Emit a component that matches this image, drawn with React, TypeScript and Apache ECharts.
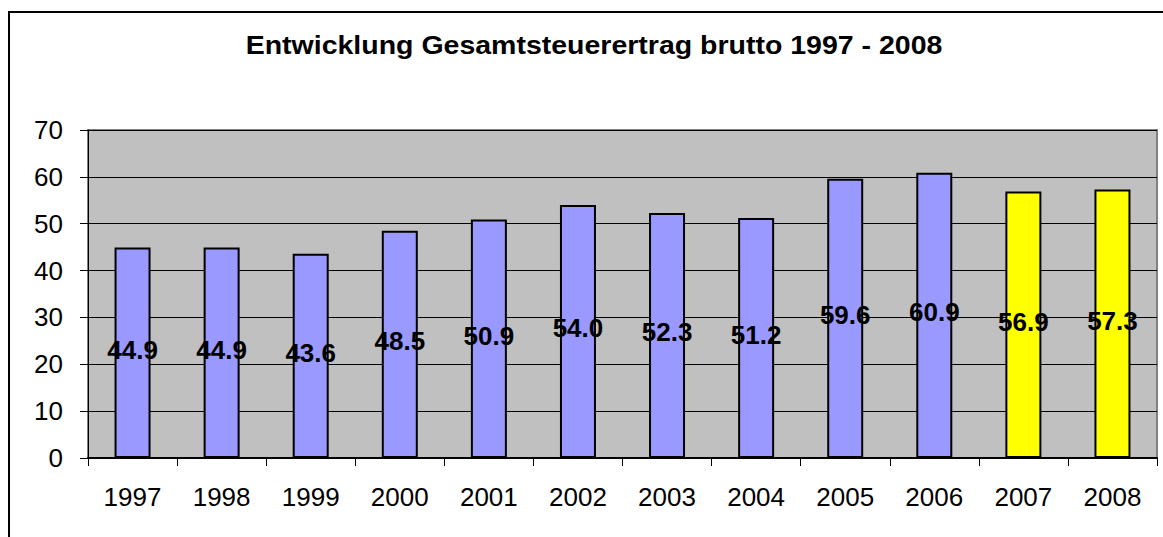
import React, { useEffect, useRef } from "react";
import * as echarts from "echarts";

const title = "Entwicklung Gesamtsteuerertrag brutto 1997 - 2008";
const years = ["1997", "1998", "1999", "2000", "2001", "2002", "2003", "2004", "2005", "2006", "2007", "2008"];
const values = [44.9, 44.9, 43.6, 48.5, 50.9, 54.0, 52.3, 51.2, 59.6, 60.9, 56.9, 57.3];
const highlighted = ["2007", "2008"];
const yTicks = { min: 0, max: 70, interval: 10 };

const FONT = "'Liberation Sans', Arial, sans-serif";

export default function App() {
  const ref = useRef<HTMLDivElement>(null);
  useEffect(() => {
    if (!ref.current) return;
    const chart = echarts.init(ref.current, null, { renderer: "svg" });
    chart.setOption({
      animation: false,
      backgroundColor: "#ffffff",
      graphic: [
        {
          type: "rect",
          shape: { x: 9, y: 12, width: 1200, height: 600 },
          style: { fill: "none", stroke: "#000", lineWidth: 2 },
          z: 100,
        },
        {
          type: "text",
          x: 594,
          y: 46,
          scaleX: 1.14,
          style: {
            text: title,
            fontFamily: FONT,
            fontWeight: "bold",
            fontSize: 25,
            fill: "#000",
            align: "center",
            verticalAlign: "middle",
          },
          z: 100,
        },
      ],
      grid: {
        left: 88,
        top: 130,
        right: 6,
        bottom: 79,
        show: true,
        backgroundColor: "#c0c0c0",
        borderColor: "#808080",
        borderWidth: 2,
      },
      xAxis: {
        type: "category",
        data: years,
        boundaryGap: true,
        axisLine: { lineStyle: { color: "#000", width: 2 } },
        axisTick: { show: true, length: 8, lineStyle: { color: "#000", width: 1 } },
        axisLabel: { margin: 26, fontFamily: FONT, fontSize: 26, color: "#000" },
      },
      yAxis: {
        type: "value",
        min: yTicks.min,
        max: yTicks.max,
        interval: yTicks.interval,
        axisLine: { show: true, lineStyle: { color: "#000", width: 1 } },
        axisTick: { show: true, length: 8, lineStyle: { color: "#000" } },
        axisLabel: { margin: 25, fontFamily: FONT, fontSize: 26, color: "#000" },
        splitLine: { show: true, lineStyle: { color: "#000", width: 1 } },
      },
      series: [
        {
          type: "bar",
          barWidth: 36,
          data: values.map((v, i) => ({
            value: v,
            itemStyle: {
              color: highlighted.includes(years[i]) ? "#ffff00" : "#9999ff",
              borderColor: "#000",
              borderWidth: 2,
            },
          })),
          label: {
            show: true,
            position: "inside",
            offset: [0, -3],
            formatter: (p: any) => Number(p.value).toFixed(1),
            fontFamily: FONT,
            fontWeight: "bold",
            fontSize: 26,
            color: "#000",
          },
        },
      ],
    });
    return () => chart.dispose();
  }, []);
  return (
    <div
      ref={ref}
      style={{ position: "fixed", left: 0, top: 0, width: 1163, height: 537 }}
    />
  );
}
